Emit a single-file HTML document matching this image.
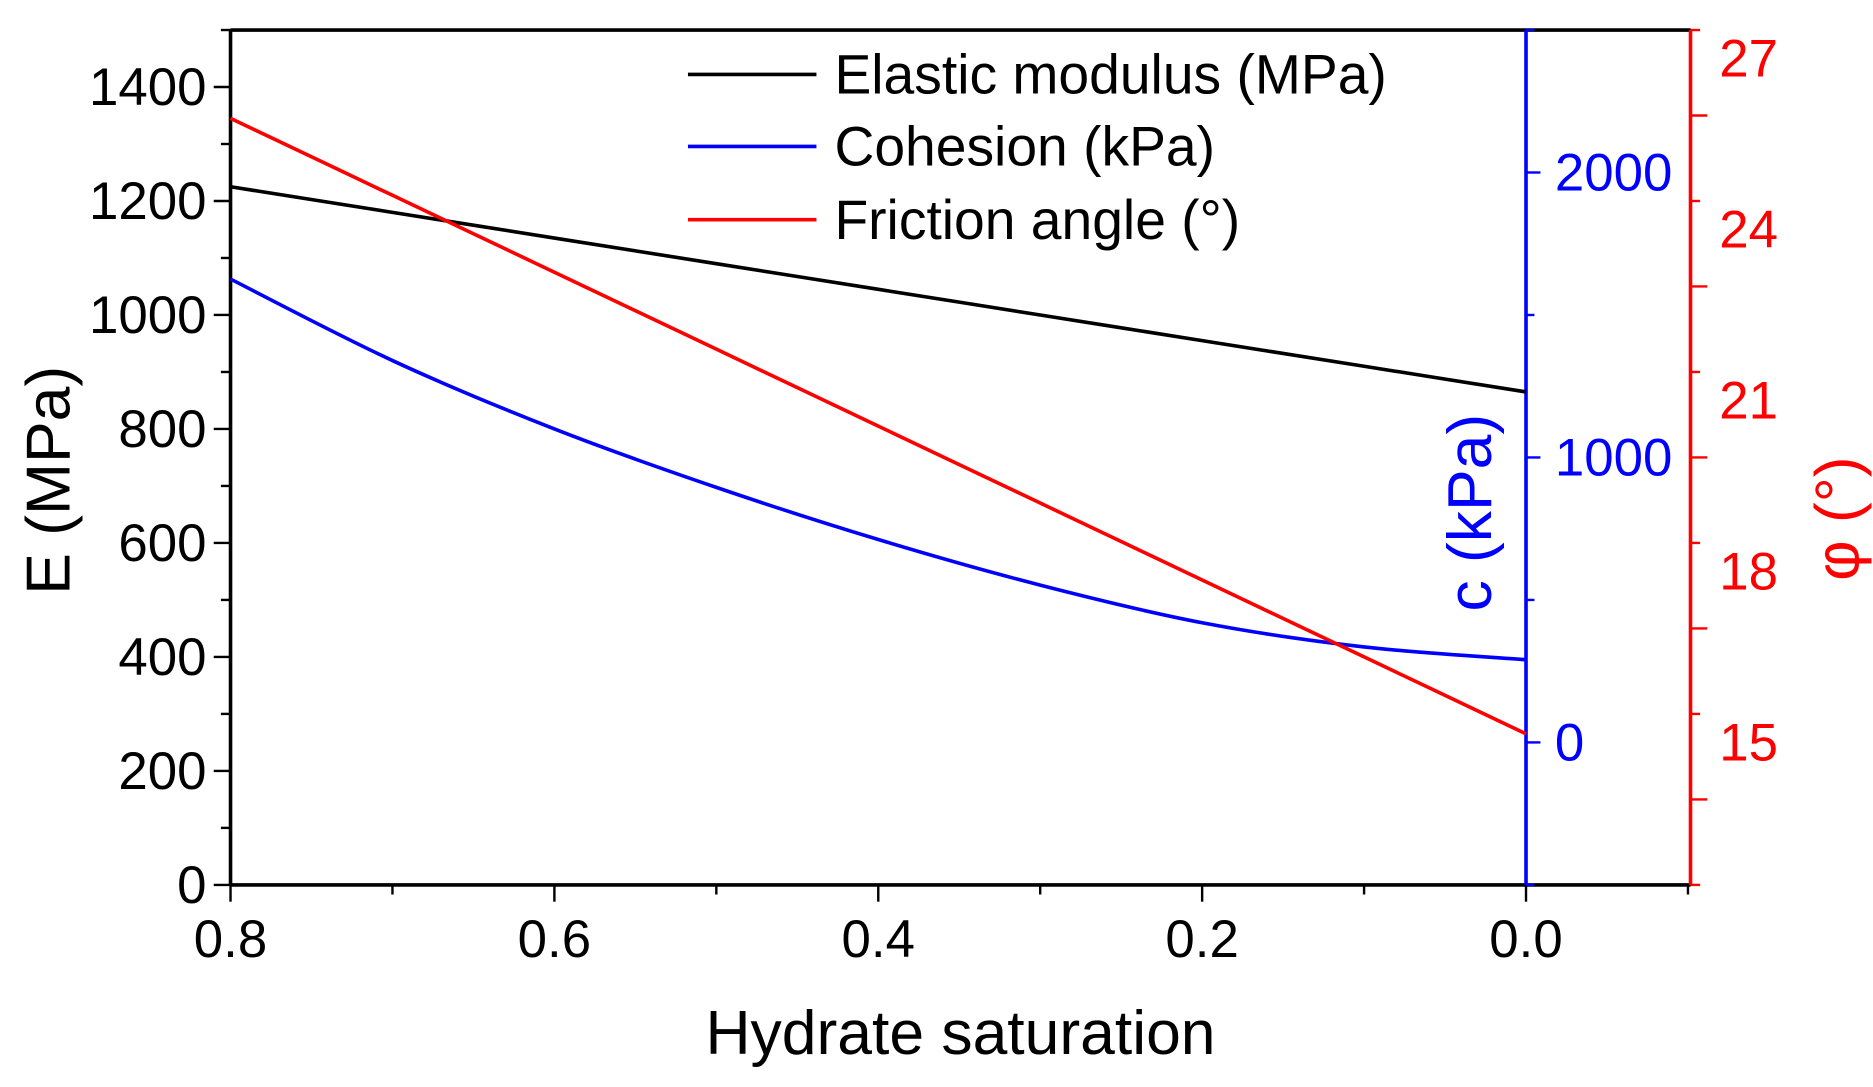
<!DOCTYPE html>
<html><head><meta charset="utf-8"><style>html,body{margin:0;padding:0;background:#fff}svg{display:block}text{font-family:"Liberation Sans",sans-serif}</style></head>
<body>
<svg id="chart" width="1873" height="1087" viewBox="0 0 1560 905.33" preserveAspectRatio="none" xmlns="http://www.w3.org/2000/svg"></svg>
<script>
const xs=[0.8,0.7,0.6,0.5,0.4,0.3,0.2,0.1,0.0];
const eVals=[1225,1180,1135,1090,1045,1000,955,910,865];
const cVals=[1626,1340,1100,895,712,552,420,335,290];
const phiVals=[25.95,24.6,23.25,21.9,20.55,19.2,17.85,16.5,15.15];
const xTicks=[0.8,0.6,0.4,0.2,0.0];
const eTicks=[0,200,400,600,800,1000,1200,1400];
const cTicks=[0,1000,2000];
const phiTicks=[15,18,21,24,27];
const L=192,R=1408,T=25,B=737;
function X(v){return 192+(0.8-v)*1348.75;}
function YE(v){return B-(v/1500)*(B-T);}
function YC(v){return B-((v+500)/3000)*(B-T);}
function YP(v){return B-((v-12.5)/15)*(B-T);}
const svg=document.getElementById('chart');
const NS='http://www.w3.org/2000/svg';
function el(t,a,p){const e=document.createElementNS(NS,t);for(const k in a)e.setAttribute(k,a[k]);(p||svg).appendChild(e);return e;}
function line(x1,y1,x2,y2,c,w){return el('line',{x1,y1,x2,y2,stroke:c,'stroke-width':w});}
function txt(s,x,y,size,fill,anchor,extra){const t=el('text',Object.assign({x,y,'font-size':size,fill,'text-anchor':anchor},extra||{}));t.textContent=s;return t;}
let a=line(L,T,R,T,'#000',3);
a=line(L,T,L,B,'#000',3);
a=line(L,B,R,B,'#000',3);
a=line(1271,T,1271,B,'#00f',3);
a=line(R,T,R,B,'#f00',3);
for(let i=0;i<=9;i++){const v=0.8-i*0.1;const x=X(v);const maj=i%2===0;line(x,B,x,B+(maj?14:8),'#000',2);}
xTicks.forEach(v=>{const t=txt(v.toFixed(1),X(v),797,44,'#000','middle');});
for(let v=0;v<=1500;v+=100){const y=YE(v);line(L,y,L-(v%200===0?14:8),y,'#000',2);}
eTicks.forEach(v=>{const t=txt(String(v),172,YE(v)+15,44,'#000','end');});
for(let v=-500;v<=2500;v+=500){const y=YC(v);line(1271,y,1271+(v%1000===0?12:7),y,'#00f',2);}
cTicks.forEach(v=>{const t=txt(String(v),1295,YC(v)+15,44,'#00f','start');});
for(let i=0;i<=10;i++){const v=12.5+i*1.5;const y=YP(v);const maj=i%2===1;line(R,y,R+(maj?14:8),y,'#f00',2);}
phiTicks.forEach(v=>{const t=txt(String(v),1432,YP(v)+15,44,'#f00','start');});
function series(vals,fy,c,name){
  const P=xs.map((x,i)=>[X(x),fy(vals[i])]);
  let d='M'+P[0][0]+','+P[0][1];
  for(let i=0;i<P.length-1;i++){const p0=P[Math.max(0,i-1)],p1=P[i],p2=P[i+1],p3=P[Math.min(P.length-1,i+2)];
    d+=' C'+(p1[0]+(p2[0]-p0[0])/6)+','+(p1[1]+(p2[1]-p0[1])/6)+' '+(p2[0]-(p3[0]-p1[0])/6)+','+(p2[1]-(p3[1]-p1[1])/6)+' '+p2[0]+','+p2[1];}
  const p=el('path',{d,fill:'none',stroke:c,'stroke-width':3});
  
  }
series(eVals,YE,'#000','elastic-modulus-line');
series(cVals,YC,'#00f','cohesion-line');
series(phiVals,YP,'#f00','friction-angle-line');
const leg=[['Elastic modulus (MPa)','#000',62],['Cohesion (kPa)','#00f',122],['Friction angle (°)','#f00',183]];
leg.forEach(l=>{line(573,l[2],680,l[2],l[1],3);const t=txt(l[0],695,l[2]+16,46,'#000','start');});
let t=txt('Hydrate saturation',800,878,52,'#000','middle');
t=txt('E (MPa)',0,0,52,'#000','middle',{transform:'translate(58,400) rotate(-90)'});
t=txt('c (kPa)',0,0,52,'#00f','middle',{transform:'translate(1242,427) rotate(-90)'});
t=txt('φ (°)',0,0,52,'#f00','middle',{transform:'translate(1548,432) rotate(-90)'});
</script>
</body></html>
